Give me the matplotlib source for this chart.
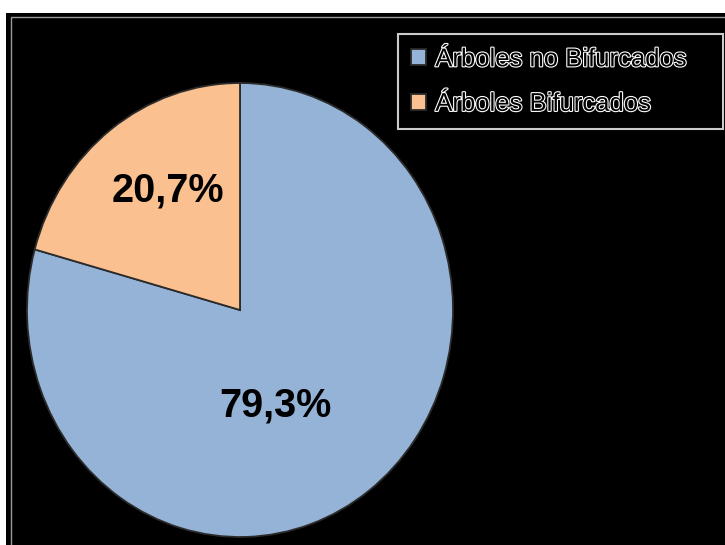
import matplotlib.pyplot as plt
import matplotlib.patheffects as pe
from matplotlib.patches import Rectangle

# Proporción de árboles bifurcados y no bifurcados
categorias = ['Árboles no Bifurcados', 'Árboles Bifurcados']
porcentajes = [79.3, 20.7]
colores = ['#95B3D7', '#FAC090']

plt.rcParams['font.family'] = ['Liberation Sans', 'DejaVu Sans']

fig = plt.figure(figsize=(7.25, 5.45), dpi=100)

# Fondo negro con marco fino
fig.patches.append(Rectangle((6 / 725, 0), 1, (545 - 13) / 545, transform=fig.transFigure,
                             facecolor='black', edgecolor='none', zorder=-3))
fig.patches.append(Rectangle((11 / 725, -0.05), 1, (545 - 17) / 545 + 0.05, transform=fig.transFigure,
                             facecolor='none', edgecolor='#9a9a9a', linewidth=1.0, zorder=-2))

ax = fig.add_axes([27 / 725, 8 / 545, 426 / 725, 454 / 545])
ax.set_facecolor('none')

wedges, _ = ax.pie(porcentajes, colors=colores, startangle=90, counterclock=False,
                   wedgeprops=dict(edgecolor='#2b2b2b', linewidth=1.3))
ax.set_aspect('auto')
ax.set_xlim(-1, 1)
ax.set_ylim(-1, 1)
ax.axis('off')

# Etiquetas de porcentaje
posiciones = [(0.164, -0.42), (-0.338, 0.525)]
for p, (x, y) in zip(porcentajes, posiciones):
    ax.text(x, y, f'{p:.1f}%'.replace('.', ','), ha='center', va='center',
            fontsize=28.5, fontweight='bold', color='black')

leg = fig.legend(wedges, categorias, loc='upper left', mode='expand',
                 bbox_to_anchor=(398 / 725, 1 - 35 / 545, 325 / 725, 0.001), frameon=True,
                 fontsize=18.5, handlelength=0.6, handleheight=0.6, handletextpad=0.35,
                 labelspacing=0.8, borderpad=0.5, borderaxespad=0, fancybox=False)
leg.get_frame().set_facecolor('black')
leg.get_frame().set_edgecolor('white')
leg.get_frame().set_linewidth(1.5)
for t in leg.get_texts():
    t.set_color('black')
    t.set_path_effects([pe.withStroke(linewidth=1.6, foreground='white')])

fig.savefig('out.png', dpi=100, facecolor='white')
